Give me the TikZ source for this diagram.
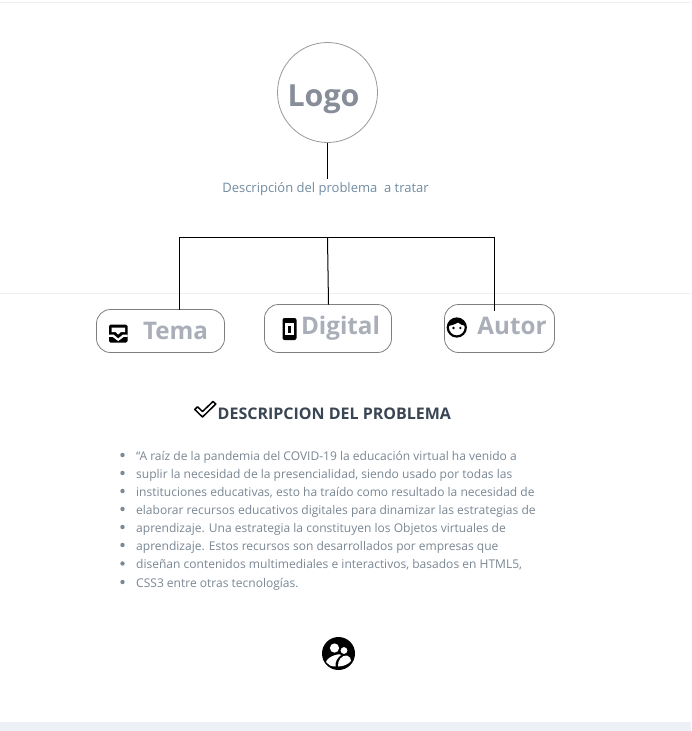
\documentclass[tikz,border=0pt]{standalone}
\usepackage{fontspec}
\setmainfont{Open Sans}
\definecolor{bodytxt}{HTML}{7A8794}
\definecolor{subtxt}{HTML}{728CA0}
\definecolor{btn}{HTML}{A9AEB8}
\definecolor{logotxt}{HTML}{878E99}
\definecolor{head}{HTML}{3A4654}
\definecolor{rulec}{HTML}{EEEFF1}
\definecolor{foot}{HTML}{EDF0F7}
\definecolor{edgec}{HTML}{7F7F7F}
\tikzset{
  px/.style={x=1pt,y=-1pt},
  card/.style={draw=edgec,line width=.8pt,rounded corners=14pt,fill=white},
  btnlabel/.style={font=\bfseries\fontsize{24.2}{28}\selectfont,text=btn,inner sep=0pt},
  bodyline/.style={font=\fontsize{12.03}{15}\selectfont,text=bodytxt,anchor=base west,inner sep=0pt},
  bull/.style={circle,fill=bodytxt,inner sep=0pt,minimum size=4.4pt},
  wire/.style={draw=black,line width=1pt},
}
\begin{document}
\begin{tikzpicture}[px]
\useasboundingbox (0,0) rectangle (691,731);
\fill[white] (0,0) rectangle (691,731);
\draw[rulec] (0,2.5) -- (691,2.5);
\draw[rulec] (0,293.5) -- (691,293.5);
\fill[foot] (0,722) rectangle (691,731);

% logo
\node[circle,draw=black!40,line width=.8pt,minimum size=100pt,inner sep=0pt] (logo) at (327.5,92.5) {};
\node[font=\bfseries\fontsize{30.4}{34}\selectfont,text=logotxt,inner sep=0pt] (logotext) at (323.5,99) {Logo};
\node[font=\fontsize{13}{16}\selectfont,text=subtxt,inner sep=0pt] (desc) at (325.5,189) {Descripción del problema\ \ a tratar};
\coordinate (descTop) at (327.5,179);
\draw[wire] (logo.south) -- (descTop);

% buttons
\draw[card] (96.5,309.5) rectangle (224.5,352.5);
\draw[card] (264.5,304.5) rectangle (391.5,352.5);
\draw[card] (444.5,304.5) rectangle (554.5,352.5);
\coordinate (c1) at (179.5,309.5);
\coordinate (c2) at (328.5,304.5);
\coordinate (c3) at (494.5,311);
\coordinate (h1) at (179.5,237.5);
\coordinate (h2) at (327.5,237.5);
\coordinate (h3) at (494.5,237.5);
\draw[wire] (c1) -- (h1) -- (h3) -- (c3);
\draw[wire] (h2) -- (c2);

\node[btnlabel] (tema) at (175.5,330.5) {Tema};
\node[btnlabel] (digital) at (340.5,328.5) {Digital};
\node[btnlabel] (autor) at (512,325.5) {Autor};

% Tema icon (inbox tray)
\fill[black,rounded corners=1.5pt] (109,324.5) rectangle (127.5,342.5);
\fill[white] (111.5,327.5) -- (125,327.5) -- (125,332) -- (121,332) -- (118.2,334.5) -- (115.5,332) -- (111.5,332) -- cycle;
\fill[white] (109,334.5) -- (113.5,334.5) -- (118.2,338.5) -- (123,334.5) -- (127.5,334.5) -- (127.5,336.8) -- (124,336.8) -- (118.2,341) -- (112.5,336.8) -- (109,336.8) -- cycle;

% Digital icon (phone)
\fill[black,rounded corners=2pt] (282.5,318) rectangle (296.5,340);
\fill[white] (285,323) rectangle (294,335);
\fill[black] (288,325.5) rectangle (291,332.5);

% Autor icon (face)
\draw[black,line width=2.2pt,fill=white] (456.8,327.5) circle (9);
\fill[black] (448,326) .. controls (448,316) and (466,316) .. (466,326) .. controls (463,325.5) and (460,324.5) .. (458,322.5) .. controls (455,324.5) and (451,325.5) .. (448,326) -- cycle;
\fill[black] (453.5,328) circle (1.3);
\fill[black] (460.3,328) circle (1.3);

% heading
\node[font=\bfseries\fontsize{16}{19}\selectfont,text=head,anchor=west,inner sep=0pt] (headtxt) at (217.5,414) {DESCRIPCION DEL PROBLEMA};
\draw[black,line width=1.5pt,line join=round,fill=white] (194.8,409.5) -- (197.5,406.8) -- (202.5,411.5) -- (213,401.5) -- (215.8,404) -- (202.5,417) -- cycle;

% body
\foreach \yy/\tx in {
 460/{“A raíz de la pandemia del COVID-19 la educación virtual ha venido a},
 478/{suplir la necesidad de la presencialidad, siendo usado por todas las},
 496/{instituciones educativas, esto ha traído como resultado la necesidad de},
 514/{elaborar recursos educativos digitales para dinamizar las estrategias de},
 532/{aprendizaje. Una estrategia la constituyen los Objetos virtuales de},
 550/{aprendizaje. Estos recursos son desarrollados por empresas que},
 568.5/{diseñan contenidos multimediales e interactivos, basados en HTML5,},
 587/{CSS3 entre otras tecnologías.}}{
  \node[bull] at (122.5,\yy-5) {};
  \node[bodyline] at (136,\yy) {\tx};
}

% bottom icon
\fill[black] (338.5,653.5) circle (16.5);
\fill[white] (334.5,648) circle (4.6);
\fill[white] (344,650.5) circle (3.4);
\fill[white] (326,662) .. controls (328,656) and (340,653) .. (341,655) .. controls (337.5,658) and (335,661) .. (335.5,666.5) .. controls (331,666.5) and (328,665) .. (326,662) -- cycle;
\fill[white] (338,666.5) .. controls (337.5,660) and (342,655) .. (347,655.5) .. controls (350,656) and (351,659) .. (351,661) .. controls (348,664.5) and (343,666.5) .. (338,666.5) -- cycle;
\end{tikzpicture}
\end{document}
